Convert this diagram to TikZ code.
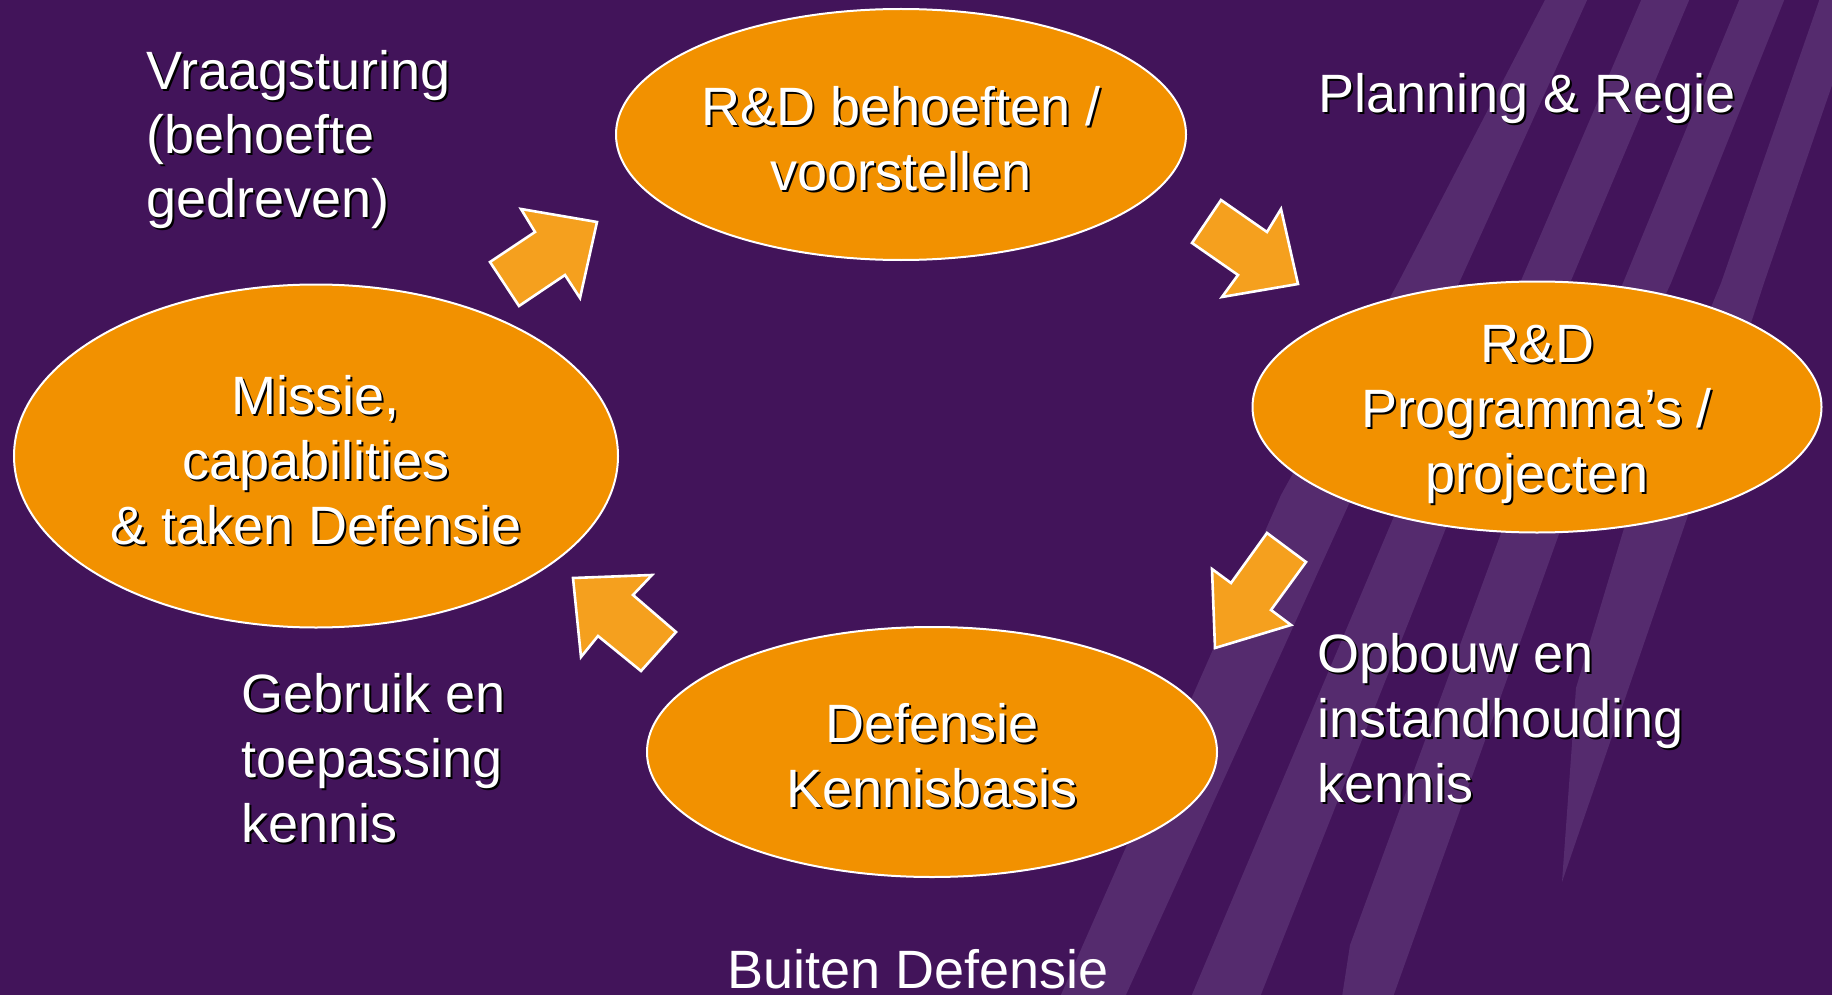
\documentclass[tikz,border=0pt]{standalone}
\usepackage{fontspec}
\setmainfont{Liberation Sans}
\usetikzlibrary{shapes.geometric}
\definecolor{bgpurple}{RGB}{66,20,90}
\definecolor{stripecol}{RGB}{85,43,110}
\definecolor{ellorange}{RGB}{242,145,0}
\definecolor{arroworange}{RGB}{245,160,30}
\newcommand\sh[1]{\leavevmode\rlap{\kern1pt\raisebox{-1pt}{\color{black}#1}}#1}
\begin{document}
\begin{tikzpicture}[x=0.5pt,y=-0.5pt,
  ell/.style={ellipse, fill=ellorange, draw=white, line width=1pt, inner sep=0pt},
  txt/.style={text=white, font=\fontsize{27pt}{32.5pt}\selectfont, inner sep=0pt},
  etxt/.style={txt, align=center, yshift=-2.5pt},
  lbl/.style={txt, anchor=base west},
  blockarrow/.style={fill=arroworange, draw=white, line width=1.3pt, line join=miter}]
\fill[bgpurple] (0,0) rectangle (1832,995);
\useasboundingbox (0,0) rectangle (1832,995);
\begin{scope}
\clip (0,0) rectangle (1832,995);
\fill[stripecol] (1546,-2) -- (1398,283) -- (1281,495) -- (1060,997) -- (1125,997) -- (1353,495) -- (1459,283) -- (1588,-2) -- cycle;
\fill[stripecol] (1642,-2) -- (1520,283) -- (1403,495) -- (1191,997) -- (1260,997) -- (1459,495) -- (1570,283) -- (1690,-2) -- cycle;
\fill[stripecol] (1740,-2) -- (1623,283) -- (1515,495) -- (1350,945) -- (1342,997) -- (1393,997) -- (1573,495) -- (1671,283) -- (1785,-2) -- cycle;
\fill[stripecol] (1820,-2) -- (1721,283) -- (1634,495) -- (1576,688) -- (1562,882) -- (1695,495) -- (1764,283) -- (1862,-2) -- cycle;
\end{scope}

% ellipses
\node[ell, minimum width=285pt, minimum height=125.5pt] (etop) at (901,134.5) {};
\node[ell, minimum width=284.5pt, minimum height=125.5pt] (eright) at (1537,407) {};
\node[ell, minimum width=302pt, minimum height=171.5pt] (eleft) at (316,456) {};
\node[ell, minimum width=285pt, minimum height=125pt] (ebottom) at (932,752) {};

\node[etxt] (ttop) at (etop.center) {\sh{R\&D behoeften /}\\\sh{voorstellen}};
\node[etxt, yshift=-1.5pt] (tright) at (eright.center) {\sh{R\&D}\\\sh{Programma’s /}\\\sh{projecten}};
\node[etxt] (tleft) at (eleft.center) {\sh{Missie,}\\\sh{capabilities}\\\sh{\& taken Defensie}};
\node[etxt] (tbottom) at (ebottom.center) {\sh{Defensie}\\\sh{Kennisbasis}};

% block arrows
\filldraw[blockarrow] (519,306) -- (490,262) -- (535,232) -- (521,209) -- (597,222) -- (580,298) -- (565,275) -- cycle;
\filldraw[blockarrow] (1221,200) -- (1267,232) -- (1281,209) -- (1298,284) -- (1222,297) -- (1238,275) -- (1192,243) -- cycle;
\filldraw[blockarrow] (1267,533) -- (1306,562) -- (1271,610) -- (1291,625) -- (1215,648) -- (1212,569) -- (1231,583) -- cycle;
\filldraw[blockarrow] (573,578) -- (652,575) -- (633,595) -- (676,632) -- (641,671) -- (598,636) -- (581,657) -- cycle;

% labels
\node[lbl] (vr1) at (146,90) {\sh{Vraagsturing}};
\node[lbl] (vr2) at (146,154) {\sh{(behoefte}};
\node[lbl] (vr3) at (146,218) {\sh{gedreven)}};
\node[lbl] (pr) at (1318,113) {\sh{Planning \& Regie}};
\node[lbl] (op1) at (1317,672) {\sh{Opbouw en}};
\node[lbl] (op2) at (1317,737) {\sh{instandhouding}};
\node[lbl] (op3) at (1317,802) {\sh{kennis}};
\node[lbl] (gb1) at (241,712) {\sh{Gebruik en}};
\node[lbl] (gb2) at (241,777) {\sh{toepassing}};
\node[lbl] (gb3) at (241,842) {\sh{kennis}};
\node[lbl] (bd) at (727,988) {Buiten Defensie};
\end{tikzpicture}
\end{document}
